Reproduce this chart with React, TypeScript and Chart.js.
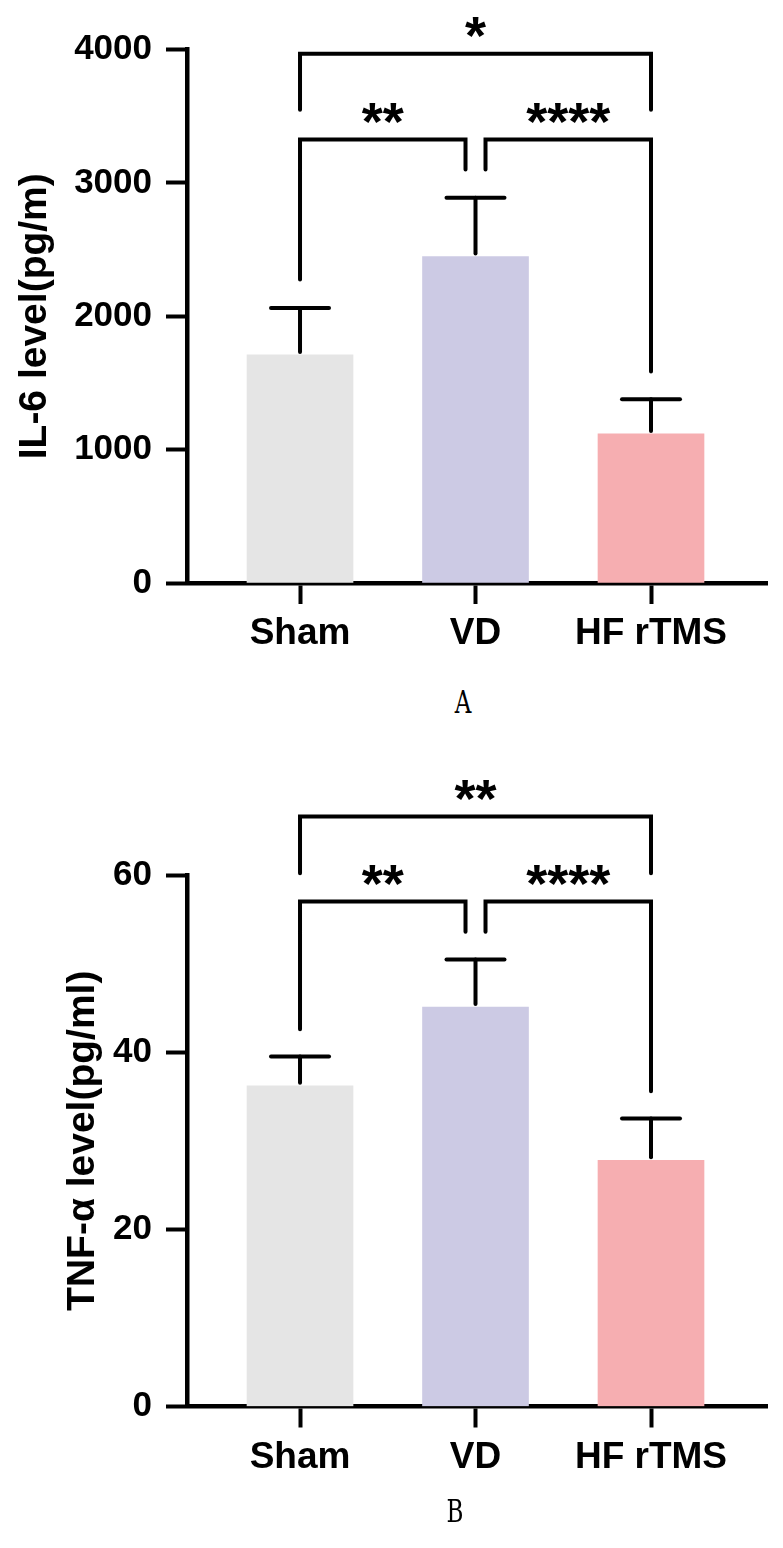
import React, { useEffect, useRef } from 'react';
import { Chart, registerables } from 'chart.js';

Chart.register(...registerables);

const categories = ['Sham', 'VD', 'HF rTMS'];
const barColors = ['#e5e5e5', '#cccae4', '#f6aeb1'];

const il6Means = [1710, 2448, 1118];
const il6Errors = [352, 440, 260];
const il6Ticks = [0, 1000, 2000, 3000, 4000];
// [from, to, bracket level, left leg end, right leg end, label level, label]
const il6Brackets: [number, number, number, number, number, number, string][] = [
  [0, 2, 3968, 3548, 3548, 4167, '*'],
  [0, 1, 3325, 2275, 3100, 3518, '**'],
  [1, 2, 3325, 3100, 1585, 3518, '****'],
];

const tnfMeans = [36.2, 45.1, 27.8];
const tnfErrors = [3.3, 5.35, 4.7];
const tnfTicks = [0, 20, 40, 60];
const tnfBrackets: [number, number, number, number, number, number, string][] = [
  [0, 2, 66.6, 60.2, 60.2, 69.5, '**'],
  [0, 1, 57.0, 42.6, 53.6, 60.0, '**'],
  [1, 2, 57.0, 53.6, 35.6, 60.0, '****'],
];

const FONT = '"Liberation Sans", Arial, sans-serif';

type PanelProps = {
  means: number[];
  errors: number[];
  ticks: number[];
  brackets: [number, number, number, number, number, number, string][];
  title: string;
  titlePad: number;
  top: number;
  height: number;
  areaTop: number;
  areaBottom: number;
};

function Panel(p: PanelProps) {
  const ref = useRef<HTMLCanvasElement | null>(null);
  useEffect(() => {
    const canvas = ref.current;
    if (!canvas) return;
    const n = categories.length;
    const annotate = {
      id: 'annotate',
      afterDraw(chart: any) {
        const ctx = chart.ctx as CanvasRenderingContext2D;
        const xs = chart.scales.x;
        const ys = chart.scales.y;
        const meta = chart.getDatasetMeta(0);
        ctx.save();
        ctx.strokeStyle = '#000';
        ctx.lineWidth = 4;
        ctx.lineCap = 'round';
        ctx.lineJoin = 'miter';
        meta.data.forEach((bar: any, i: number) => {
          const x = bar.x;
          const yTop = bar.y;
          const yE = ys.getPixelForValue(p.means[i] + p.errors[i]);
          ctx.beginPath();
          ctx.moveTo(x, yTop - 3);
          ctx.lineTo(x, yE);
          ctx.stroke();
          ctx.beginPath();
          ctx.moveTo(x - 29, yE);
          ctx.lineTo(x + 29, yE);
          ctx.stroke();
        });
        ctx.font = `bold 54px ${FONT}`;
        ctx.fillStyle = '#000';
        ctx.textAlign = 'center';
        ctx.textBaseline = 'alphabetic';
        p.brackets.forEach(([from, to, lvl, lEnd, rEnd, labLvl, label]) => {
          let xl = xs.getPixelForValue(from);
          let xr = xs.getPixelForValue(to);
          if (from > 0 && from < n - 1) xl += 10;
          if (to > 0 && to < n - 1) xr -= 10;
          const yh = ys.getPixelForValue(lvl);
          ctx.beginPath();
          ctx.moveTo(xl, ys.getPixelForValue(lEnd));
          ctx.lineTo(xl, yh);
          ctx.lineTo(xr, yh);
          ctx.lineTo(xr, ys.getPixelForValue(rEnd));
          ctx.stroke();
          const m = ctx.measureText(label);
          const cy = ys.getPixelForValue(labLvl);
          const asc = m.actualBoundingBoxAscent;
          const desc = m.actualBoundingBoxDescent;
          ctx.fillText(label, (xl + xr) / 2, cy + (asc - desc) / 2);
        });
        ctx.restore();
      },
    };
    const chart = new Chart(canvas, {
      type: 'bar',
      data: {
        datasets: [
          {
            data: p.means.map((v, i) => ({ x: i, y: v })),
            backgroundColor: barColors,
            borderWidth: 0,
            barThickness: 106,
          },
        ],
      },
      options: {
        animation: false,
        responsive: false,
        devicePixelRatio: 1,
        layout: { padding: { top: p.areaTop, right: 16, left: 0, bottom: 0 } },
        plugins: { legend: { display: false }, tooltip: { enabled: false } },
        scales: {
          x: {
            type: 'linear',
            min: -0.644,
            max: 2.661,
            offset: false,
            afterBuildTicks: (s: any) => {
              s.ticks = categories.map((_, i) => ({ value: i }));
            },
            afterFit: (s: any) => {
              s.height = p.height - p.areaBottom;
            },
            ticks: {
              autoSkip: false,
              maxRotation: 0,
              padding: 8,
              color: '#000',
              font: { family: FONT, size: 37, weight: 'bold' },
              callback: (v: any) => categories[v as number] ?? '',
            },
            grid: {
              display: true,
              offset: false,
              drawOnChartArea: false,
              drawTicks: true,
              tickLength: 21,
              tickWidth: 4,
              tickColor: '#000',
            },
            border: { display: true, color: '#000', width: 4.5 },
          },
          y: {
            type: 'linear',
            min: p.ticks[0],
            max: p.ticks[p.ticks.length - 1],
            afterBuildTicks: (s: any) => {
              s.ticks = p.ticks.map((v) => ({ value: v }));
            },
            afterFit: (s: any) => {
              s.width = 187;
            },
            ticks: {
              padding: 14,
              color: '#000',
              font: { family: FONT, size: 35, weight: 'bold' },
              callback: (v: any) => String(v),
            },
            grid: {
              display: true,
              offset: false,
              drawOnChartArea: false,
              drawTicks: true,
              tickLength: 21,
              tickWidth: 4,
              tickColor: '#000',
            },
            border: { display: true, color: '#000', width: 4.5 },
            title: {
              display: true,
              text: p.title,
              color: '#000',
              font: { family: FONT, size: 39, weight: 'bold' },
              padding: { top: p.titlePad, bottom: 0 },
            },
          },
        },
      },
      plugins: [annotate],
    } as any);
    return () => chart.destroy();
  }, []);
  return (
    <canvas
      ref={ref}
      width={783}
      height={p.height}
      style={{ position: 'absolute', left: 0, top: p.top, width: 783, height: p.height, display: 'block' }}
    />
  );
}

const captionStyle: React.CSSProperties = {
  position: 'absolute',
  width: 100,
  textAlign: 'center',
  fontFamily: '"DejaVu Serif", "Liberation Serif", serif',
  fontSize: 32,
  lineHeight: '32px',
  color: '#000',
  transform: 'scaleX(0.72)',
};

export default function App() {
  return (
    <div style={{ position: 'absolute', left: 0, top: 0, width: 783, height: 1548, background: '#fff' }}>
      <Panel
        means={il6Means}
        errors={il6Errors}
        ticks={il6Ticks}
        brackets={il6Brackets}
        title="IL-6 level(pg/m)"
        titlePad={12}
        top={0}
        height={680}
        areaTop={49.5}
        areaBottom={583}
      />
      <div style={{ ...captionStyle, left: 413, top: 686 }}>A</div>
      <Panel
        means={tnfMeans}
        errors={tnfErrors}
        ticks={tnfTicks}
        brackets={tnfBrackets}
        title="TNF-α level(pg/ml)"
        titlePad={60}
        top={740}
        height={760}
        areaTop={135}
        areaBottom={666.5}
      />
      <div style={{ ...captionStyle, left: 405, top: 1495 }}>B</div>
    </div>
  );
}
